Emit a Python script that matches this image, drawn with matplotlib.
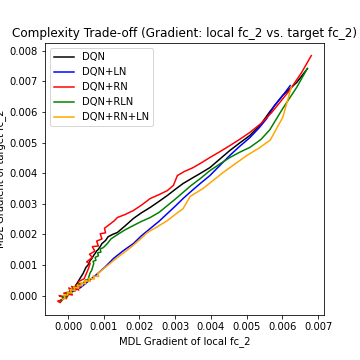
import numpy as np
import matplotlib
matplotlib.use("Agg")
import matplotlib.pyplot as plt

# values, in units of 1e-3
dqn_x = [-0.20, -0.12, -0.02, 0.08, 0.20, 0.35, 0.42, 0.50, 0.56, 0.62, 0.66, 0.72, 0.76, 0.80, 0.84, 0.90, 0.95,
         1.05, 1.12, 1.25, 1.38, 1.60, 1.83, 2.05, 2.30, 2.55, 2.78, 3.00, 3.22, 3.45, 3.70, 3.97, 4.25, 4.53, 4.80,
         5.09, 5.40, 5.65, 6.01, 6.40, 6.70]
dqn_y = [-0.15, -0.10, 0.00, 0.10, 0.30, 0.59, 0.72, 0.92, 1.00, 1.15, 1.20, 1.32, 1.38, 1.46, 1.50, 1.60, 1.70,
         1.80, 1.92, 2.00, 2.06, 2.28, 2.52, 2.70, 2.88, 3.08, 3.27, 3.47, 3.66, 3.82, 3.99, 4.18, 4.46, 4.74, 4.98,
         5.23, 5.60, 6.01, 6.54, 6.96, 7.41]

dqn_ln_x = [-0.15, -0.05, 0.08, 0.20, 0.35, 0.55, 0.83, 1.05, 1.27, 1.55, 1.83, 2.05, 2.30, 2.55, 2.78, 3.00, 3.22,
            3.45, 3.70, 3.97, 4.25, 4.53, 4.80, 5.09, 5.35, 5.56, 5.78, 6.00, 6.22]
dqn_ln_y = [-0.10, -0.02, 0.10, 0.18, 0.26, 0.45, 0.72, 0.95, 1.21, 1.47, 1.70, 1.95, 2.19, 2.43, 2.68, 2.92, 3.17,
            3.41, 3.66, 3.92, 4.25, 4.58, 4.87, 5.16, 5.48, 5.78, 6.21, 6.52, 6.86]

dqn_rn_x = [-0.20, -0.29, -0.22, -0.10, -0.25, -0.05, 0.05, -0.12, 0.12, 0.02, 0.20, 0.10, 0.30, 0.22, 0.35, 0.28,
            0.45, 0.55, 0.62, 0.52, 0.68, 0.60, 0.75, 0.68, 0.85, 0.80, 0.95, 0.90, 1.05, 1.02, 1.19, 1.30, 1.38,
            1.60, 1.83, 2.05, 2.30, 2.55, 2.78, 2.95, 3.06, 3.25, 3.50, 3.75, 3.97, 4.25, 4.53, 4.80, 5.09, 5.40,
            5.70, 6.20, 6.54, 6.81]
dqn_rn_y = [-0.15, -0.18, -0.23, -0.05, 0.00, -0.10, 0.12, 0.08, 0.02, 0.25, 0.15, 0.30, 0.18, 0.35, 0.30, 0.45,
            0.55, 0.82, 1.05, 1.10, 1.25, 1.35, 1.45, 1.60, 1.62, 1.78, 1.85, 2.02, 2.05, 2.20, 2.35, 2.45, 2.55,
            2.65, 2.78, 2.95, 3.17, 3.30, 3.43, 3.60, 3.92, 4.05, 4.18, 4.35, 4.51, 4.70, 4.90, 5.10, 5.33, 5.62,
            5.98, 6.70, 7.29, 7.84]

dqn_rln_x = [-0.20, -0.12, -0.15, -0.02, -0.05, 0.08, 0.05, 0.18, 0.15, 0.27, 0.30, 0.42, 0.50, 0.55, 0.60, 0.62,
             0.66, 0.72, 0.70, 0.78, 0.76, 0.85, 0.83, 0.92, 0.90, 0.99, 1.10, 1.20, 1.38, 1.60, 1.83, 2.05, 2.30,
             2.55, 2.78, 3.00, 3.22, 3.45, 3.70, 3.97, 4.25, 4.53, 4.80, 5.09, 5.40, 5.65, 6.01, 6.40, 6.70]
dqn_rln_y = [-0.16, -0.10, -0.02, -0.02, 0.10, 0.07, 0.20, 0.15, 0.28, 0.26, 0.38, 0.40, 0.52, 0.49, 0.68, 0.75,
             0.82, 1.05, 1.12, 1.15, 1.25, 1.30, 1.40, 1.42, 1.52, 1.57, 1.70, 1.85, 1.99, 2.15, 2.29, 2.42, 2.55,
             2.72, 2.94, 3.15, 3.37, 3.60, 3.82, 4.08, 4.30, 4.51, 4.68, 4.84, 5.10, 5.42, 6.11, 6.80, 7.42]

dqn_rn_ln_x = [-0.15, -0.08, -0.12, 0.00, -0.02, 0.10, 0.06, 0.20, 0.16, 0.30, 0.26, 0.40, 0.36, 0.50, 0.46, 0.62,
               0.58, 0.74, 0.70, 0.86, 0.83, 1.05, 1.27, 1.50, 1.75, 2.00, 2.22, 2.50, 2.78, 3.00, 3.22, 3.42,
               3.78, 4.05, 4.34, 4.65, 5.01, 5.35, 5.66, 6.01, 6.25]
dqn_rn_ln_y = [-0.12, -0.08, 0.02, 0.02, 0.10, 0.08, 0.20, 0.16, 0.28, 0.24, 0.34, 0.32, 0.42, 0.38, 0.50, 0.46,
               0.56, 0.54, 0.64, 0.62, 0.72, 0.93, 1.14, 1.35, 1.57, 1.82, 2.06, 2.25, 2.45, 2.65, 2.84, 3.24,
               3.50, 3.75, 4.02, 4.28, 4.58, 4.82, 5.08, 5.82, 6.81]

series = [
    ("DQN", dqn_x, dqn_y, "black"),
    ("DQN+LN", dqn_ln_x, dqn_ln_y, "blue"),
    ("DQN+RN", dqn_rn_x, dqn_rn_y, "red"),
    ("DQN+RLN", dqn_rln_x, dqn_rln_y, "green"),
    ("DQN+RN+LN", dqn_rn_ln_x, dqn_rn_ln_y, "orange"),
]

fig = plt.figure(figsize=(5, 5), dpi=72)
ax = fig.add_subplot(111)
fig.subplots_adjust(left=0.125, right=0.9, top=0.88, bottom=0.125)

for name, xs, ys, c in series:
    ax.plot(np.array(xs) * 1e-3, np.array(ys) * 1e-3, color=c, label=name, linewidth=1.5)

ax.set_title("Complexity Trade-off (Gradient: local fc_2 vs. target fc_2)")
ax.set_xlabel("MDL Gradient of local fc_2")
ax.set_ylabel("MDL Gradient of target fc_2")
ax.legend(loc="upper left")

fig.savefig("out.png", dpi=72)
